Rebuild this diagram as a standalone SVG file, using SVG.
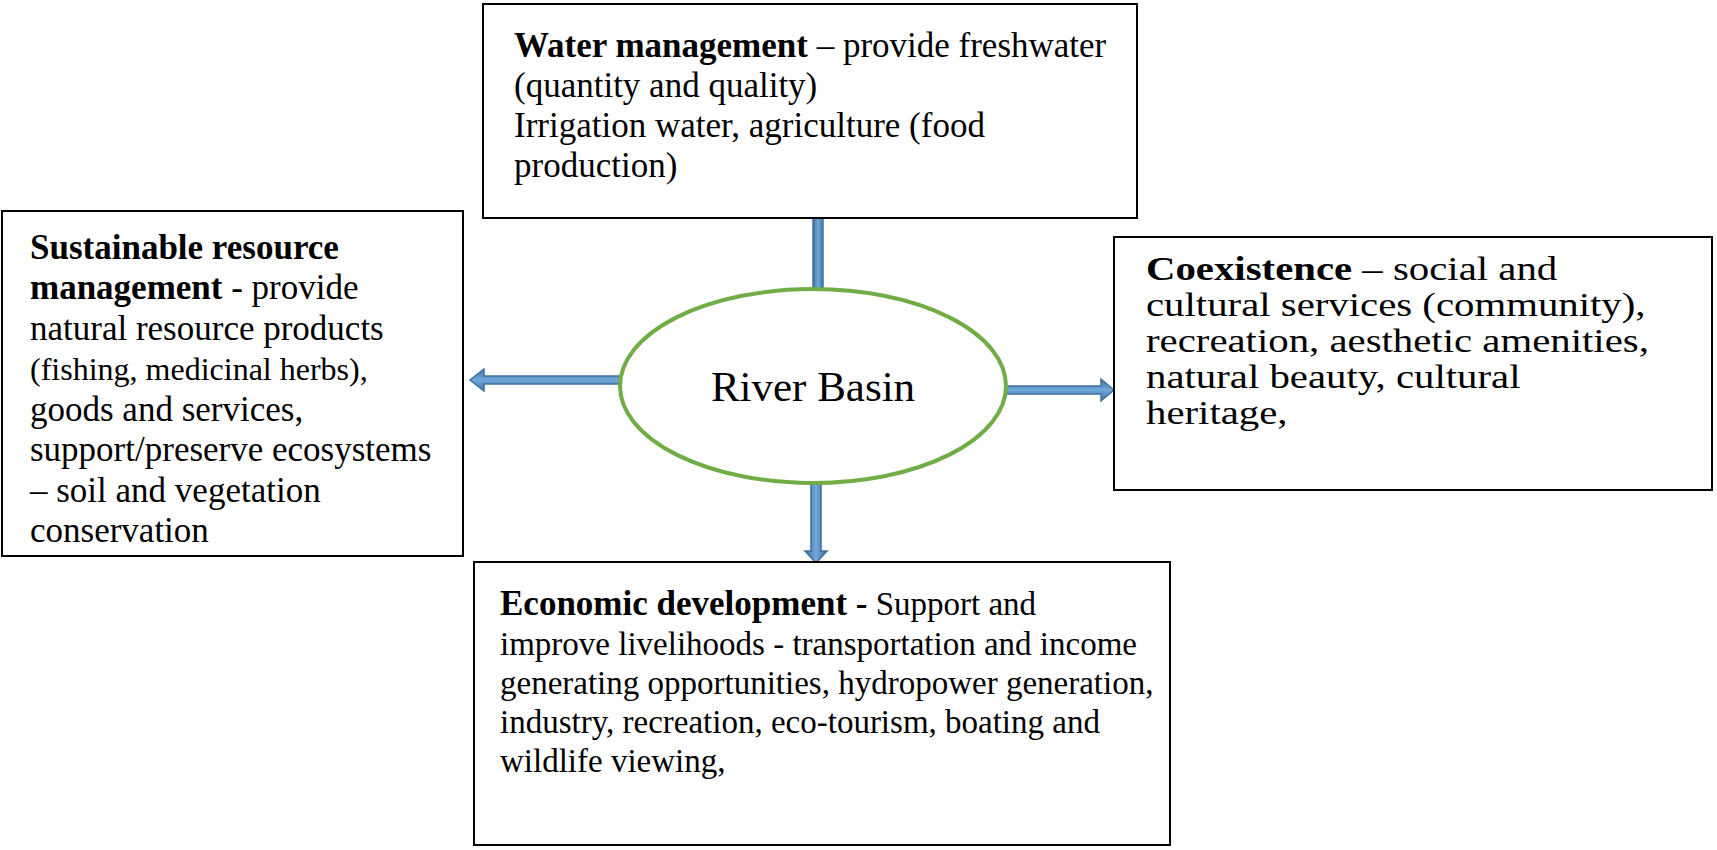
<svg xmlns="http://www.w3.org/2000/svg" width="1717" height="850" viewBox="0 0 1717 850">
<style>
.box{fill:#fff;stroke:#000;stroke-width:2}
.t{font-family:"Liberation Serif","Times New Roman",serif;fill:#000}
.b{font-weight:bold}
.h{fill:url(#gh);stroke:#41719C;stroke-width:1.5}
.v{fill:url(#gv);stroke:#41719C;stroke-width:1.5}
</style>
<defs>
<linearGradient id="gh" x1="0" y1="0" x2="0" y2="1">
<stop offset="0" stop-color="#41719C"/>
<stop offset="0.5" stop-color="#6FA8DC"/>
<stop offset="1" stop-color="#41719C"/>
</linearGradient>
<linearGradient id="gv" x1="0" y1="0" x2="1" y2="0">
<stop offset="0" stop-color="#41719C"/>
<stop offset="0.5" stop-color="#6FA8DC"/>
<stop offset="1" stop-color="#41719C"/>
</linearGradient>
</defs>
<rect width="1717" height="850" fill="#fff"/>
<g id="connectors">
<polygon class="v" points="813,218 823,218 823,290 813,290"/>
<polygon class="h" points="621,376 484,376 484,369 470,380 484,391 484,384 621,384"/>
<polygon class="h" points="1005,386 1101,386 1101,379 1114,390 1101,401 1101,394 1005,394"/>
<polygon class="v" points="811,484 811,551 805,551 816,563 827,551 821,551 821,484"/>
</g>
<g id="node-water">
<rect class="box" x="483" y="4" width="654" height="214"/>
<text class="t" font-size="35" x="514" y="57"><tspan class="b">Water management</tspan> – provide freshwater</text>
<text class="t" font-size="35" x="514" y="97">(quantity and quality)</text>
<text class="t" font-size="35" x="514" y="137">Irrigation water, agriculture (food</text>
<text class="t" font-size="35" x="514" y="177">production)</text>
</g>
<g id="node-sustainable">
<rect class="box" x="2" y="211" width="461" height="345"/>
<text class="t" font-size="35" x="30" y="259"><tspan class="b">Sustainable resource</tspan></text>
<text class="t" font-size="35" x="30" y="299"><tspan class="b">management</tspan> - provide</text>
<text class="t" font-size="35" x="30" y="340">natural resource products</text>
<text class="t" font-size="32" x="30" y="380">(fishing, medicinal herbs),</text>
<text class="t" font-size="35" x="30" y="421">goods and services,</text>
<text class="t" font-size="35" x="30" y="461">support/preserve ecosystems</text>
<text class="t" font-size="35" x="30" y="502">– soil and vegetation</text>
<text class="t" font-size="35" x="30" y="542">conservation</text>
</g>
<g id="node-river">
<ellipse cx="813" cy="386" rx="193" ry="97" fill="#fff" stroke="#70AD47" stroke-width="4"/>
<text class="t" font-size="43" x="813" y="401" text-anchor="middle">River Basin</text>
</g>
<g id="node-coexistence">
<rect class="box" x="1114" y="237" width="598" height="253"/>
<g transform="translate(1146 0) scale(1.2 1)">
<text class="t" font-size="34" x="0" y="280"><tspan class="b">Coexistence</tspan> – social and</text>
<text class="t" font-size="34" x="0" y="316">cultural services (community),</text>
<text class="t" font-size="34" x="0" y="352">recreation, aesthetic amenities,</text>
<text class="t" font-size="34" x="0" y="388">natural beauty, cultural</text>
<text class="t" font-size="34" x="0" y="424">heritage,</text>
</g>
</g>
<g id="node-economic">
<rect class="box" x="474" y="562" width="696" height="283"/>
<text class="t" font-size="33" x="500" y="615"><tspan class="b" font-size="35">Economic development -</tspan> Support and</text>
<text class="t" font-size="33" x="500" y="655">improve livelihoods - transportation and income</text>
<text class="t" font-size="33" x="500" y="694">generating opportunities, hydropower generation,</text>
<text class="t" font-size="33" x="500" y="733">industry, recreation, eco-tourism, boating and</text>
<text class="t" font-size="33" x="500" y="772">wildlife viewing,</text>
</g>
</svg>
